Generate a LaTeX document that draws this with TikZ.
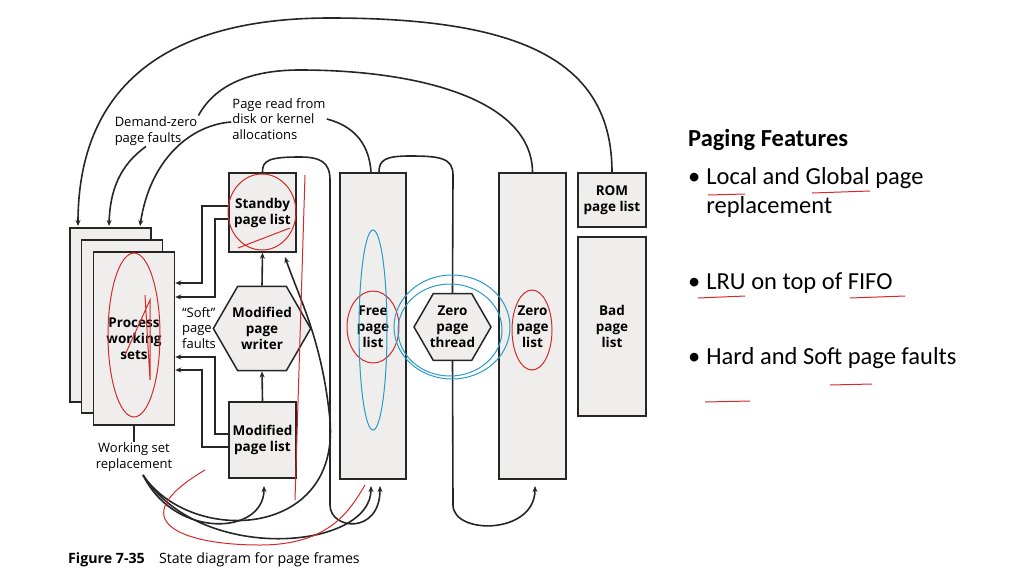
\documentclass[tikz,border=0pt]{standalone}
\usepackage{fontspec}
\setmainfont{Open Sans}
\newfontfamily\calfont{Carlito}
\usetikzlibrary{shapes.geometric,arrows.meta}
\definecolor{boxg}{HTML}{EFEEEC}
\definecolor{pen}{HTML}{D42A2A}
\definecolor{bpen}{HTML}{2A9BC8}
\begin{document}
\begin{tikzpicture}[x=1pt,y=-1pt,
  box/.style={draw=black!85,line width=1.5pt,fill=boxg,inner sep=0pt,align=center,font=\fontsize{13.5}{16}\selectfont\bfseries},
  hex/.style={box,regular polygon,regular polygon sides=6,minimum size=77pt},
  lbl/.style={align=left,font=\fontsize{13}{15.5}\selectfont,inner sep=1pt},
  ln/.style={line width=1.6pt,black!85},
  arr/.style={ln,-{Stealth[length=6pt,width=5pt]}},
  red/.style={pen,line width=1pt},
  blue/.style={bpen,line width=1pt},
  bul/.style={anchor=west,font=\calfont\fontsize{24.5}{29}\selectfont,align=left,inner sep=0pt}]
\useasboundingbox (0,0) rectangle (1024,576);
% process working sets
\node[box,minimum width=81pt,minimum height=174pt] (pb) at (110.5,315) {};
\node[box,minimum width=81pt,minimum height=173pt] (pm) at (122,326.5) {};
\node[box,minimum width=81pt,minimum height=173pt] (pws) at (134,338.5) {Process\\working\\sets};
\node[box,minimum width=67pt,minimum height=79pt] (sb) at (262.5,212.5) {Standby\\page list};
\node[hex] (mpw) at (262,328.5) {Modified\\page\\writer};
\node[box,minimum width=67pt,minimum height=76pt] (ml) at (262.5,440) {Modified\\page list};
\node[box,minimum width=66pt,minimum height=306pt] (fl) at (373,326) {};
\node[font=\fontsize{13.5}{16}\selectfont\bfseries,align=center] (flt) at (373,327) {Free\\page\\list};
\node[hex] (zt) at (452.5,327) {Zero\\page\\thread};
\node[box,minimum width=67pt,minimum height=306pt] (zl) at (532.5,326) {};
\node[font=\fontsize{13.5}{16}\selectfont\bfseries,align=center] at (532.5,327) {Zero\\page\\list};
\node[box,minimum width=68pt,minimum height=54pt] (rom) at (612,200) {ROM\\page list};
\node[box,minimum width=68pt,minimum height=179pt] (bad) at (612,326.5) {Bad\\page\\list};
% labels
\node[lbl] (dz) at (156,131) {Demand-zero\\page faults};
\node[lbl] (pr) at (279,119) {Page read from\\disk or kernel\\allocations};
\node[lbl] (sf) at (199,328) {“Soft”\\page\\faults};
\node[lbl,align=center] (wsr) at (134,457) {Working set\\replacement};
\node[anchor=west,font=\fontsize{14.2}{17}\selectfont,inner sep=0pt] (cap) at (68,560) {\textbf{Figure 7-35}\quad State diagram for page frames};
% connectors to process
\draw[arr] (sb.west|-0,206) -| (202,283) -- (pws.east|-0,283);
\draw[arr] (sb.west|-0,219) -| (215,297) -- (pws.east|-0,297);
\draw[arr] (ml.west|-0,434) -| (215,357) -- (pws.east|-0,357);
\draw[arr] (ml.west|-0,447) -| (202,370) -- (pws.east|-0,370);
\draw[arr] (ml.north) -- (mpw.south);
\draw[arr] (mpw.north) -- (sb.south);
\draw[ln] (pws.south) -- (wsr.north);
% top arcs
\draw[arr] (rom.north) .. controls (612,60) and (520,18) .. (330,18) .. controls (150,18) and (78,100) .. (78,226);
\draw[ln] (zl.north) .. controls (532,100) and (420,70) .. (300,70) .. controls (250,70) and (215,85) .. (dz.north east);
\draw[arr] (dz.south) ++(-10,0) .. controls (120,165) and (110,190) .. (109,226);
\draw[ln] (fl.north) ++(-2,0) .. controls (369,140) and (350,125) .. (pr.east);
\draw[arr] (pr.west) ++(0,3) .. controls (190,125) and (150,160) .. (140,226);
% standby -> free loop
\draw[arr] (sb.north) .. controls (262,160) and (270,157) .. (300,157) .. controls (320,157) and (330,162) .. (330,180) -- (330,505) .. controls (330,530) and (380,535) .. (380,486);
% free -> zero thread -> zero list
\draw[ln] (fl.north) ++(6,0) .. controls (379,160) and (385,156) .. (410,156) .. controls (440,156) and (453,158) .. (453,175) -- (zt.north);
\draw[arr] (zt.south) -- (453,505) .. controls (453,535) and (535,535) .. (535,486);
% working set replacement curves
\draw[arr] (143,475) .. controls (175,540) and (264,535) .. (264,486);
\draw[arr] (143,475) .. controls (190,545) and (340,540) .. (330,420) .. controls (322,340) and (300,300) .. (285,257);
\draw[arr] (143,475) .. controls (200,565) and (371,550) .. (371,486);
% right text
\node[bul,font=\calfont\fontsize{24.5}{29}\selectfont\bfseries] at (688,140) {Paging Features};
\node[bul] at (688,193) {•\hspace{6pt}\begin{tabular}[t]{@{}l@{}}Local and Global page\\replacement\end{tabular}};
\node[bul] at (688,283) {•\hspace{6pt}LRU on top of FIFO};
\node[bul] at (688,358) {•\hspace{6pt}Hard and Soft page faults};
% annotations
\draw[red] (134,335) ellipse (26 and 82);
\draw[red] (262,212) ellipse (34 and 38);
\draw[red] (373,327) ellipse (26 and 36);
\draw[red] (532,330) ellipse (20 and 40);
\draw[blue] (452,327) ellipse (58 and 52);
\draw[blue] (450,330) ellipse (52 and 46);
\draw[blue] (373,330) ellipse (14 and 100);
\draw[red] (125,355) -- (150,300) -- (150,380) -- (145,295);
\draw[red] (238,248) -- (290,228);
\draw[red] (708,195) -- (745,194);
\draw[red] (812,193) -- (870,191);
\draw[red] (698,298) -- (745,296);
\draw[red] (850,298) -- (905,296);
\draw[red] (705,402) -- (750,401);
\draw[red] (830,385) -- (872,384);
\draw[red] (305,175) -- (295,500);
\draw[red] (205,470) .. controls (120,520) and (180,545) .. (260,545) .. controls (330,545) and (350,510) .. (365,485);
\end{tikzpicture}
\end{document}
